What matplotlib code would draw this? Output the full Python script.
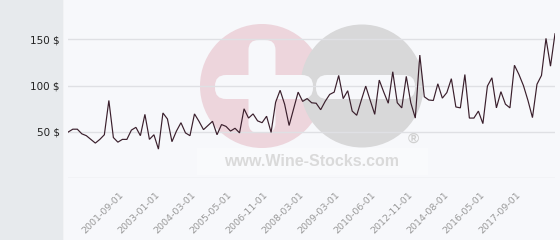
import matplotlib
matplotlib.use("Agg")
import matplotlib.pyplot as plt
from matplotlib.patches import Circle, FancyBboxPatch, Rectangle
import numpy as np

# ---- data ----
prices = [50, 53, 53, 48, 46, 42, 38, 42, 47, 84,
          44, 39, 42, 42, 52, 55, 46, 69, 42, 47,
          31.5, 70.5, 64, 39.5, 51, 60, 49, 46, 69.5, 61.5,
          52.5, 57, 61.5, 47, 58, 56, 51, 54, 49, 75,
          65, 69.5, 62, 60, 67, 49.5, 82, 95, 80, 57,
          75, 93, 83, 86, 81.5, 81, 74, 83, 90.5, 93,
          111, 86, 94.5, 72.5, 68, 84, 99.5, 84, 69, 106,
          93, 81, 115, 81.5, 76, 110, 81.5, 65, 133, 88,
          84.5, 84, 102, 86.5, 92.5, 107.5, 77, 76, 112, 65,
          65, 72.5, 59, 99.5, 108.5, 76, 93.5, 80, 76, 122,
          112, 100, 84, 65.5, 101.5, 111, 151, 121, 156]
tick_labels = ["2001-09-01", "2003-01-01", "2004-03-01", "2005-05-01",
               "2006-11-01", "2008-03-01", "2009-03-01", "2010-06-01",
               "2012-11-01", "2014-08-01", "2016-05-01", "2017-09-01"]
first_tick = 12
tick_step = 8
y_ticks = [50, 100, 150]
y_tick_labels = ["50 $", "100 $", "150 $"]

W, H = 560, 240
fig = plt.figure(figsize=(W / 100, H / 100), dpi=100)
fig.patch.set_facecolor("#f7f8fb")

# ---- background / watermark layer in pixel coordinates ----
bg = fig.add_axes([0, 0, 1, 1], zorder=0)
bg.set_xlim(0, W)
bg.set_ylim(H, 0)
bg.axis("off")
bg.add_patch(Rectangle((0, 0), 63, H, facecolor="#e7eaed", edgecolor="none"))
bg.add_patch(Rectangle((63, 0), 1, H, facecolor="#f2f3f5", edgecolor="none"))

bg.add_patch(Circle((262, 86), 62, facecolor="#edd5dc", edgecolor="none"))
bg.add_patch(Circle((362, 86), 61.5, facecolor="#d8d8d9", edgecolor="none"))
white = "#f7f8fb"
# plus sign
bg.add_patch(FancyBboxPatch((248.5 + 10, 40 + 10), 27 - 20, 93 - 20,
                            boxstyle="round,pad=10", facecolor=white, edgecolor="none"))
bg.add_patch(FancyBboxPatch((215 + 11, 75 + 11), 98 - 22, 24 - 22,
                            boxstyle="round,pad=11", facecolor=white, edgecolor="none"))
# minus sign
bg.add_patch(FancyBboxPatch((316 + 11, 75 + 11), 99 - 22, 24 - 22,
                            boxstyle="round,pad=11", facecolor=white, edgecolor="none"))
bg.add_patch(Rectangle((197, 148), 231, 27, facecolor="white", edgecolor="none", alpha=0.3))
bg.text(312, 161, "www.Wine-Stocks.com", family="Liberation Sans", weight="bold",
        fontsize=11.5, color="#dadada", ha="center", va="center")
bg.text(413, 139, "\u00ae", family="Liberation Sans", weight="bold",
        fontsize=11, color="#d0d0d0", ha="center", va="center")

# ---- main chart ----
x0, x1 = 68.3, 555.0
y0px = 178.3
px_per_unit = 46.33 / 50
ytop = y0px / px_per_unit
ax = fig.add_axes([x0 / W, (H - y0px) / H, (x1 - x0) / W, y0px / H], zorder=1)
ax.patch.set_alpha(0)
n = len(prices)
xs = np.arange(n)
ax.set_xlim(0, n - 1)
ax.set_ylim(0, ytop)

for v in [0] + y_ticks:
    ax.axhline(v, color="#dfe0e4", lw=1.0, zorder=1)

ax.plot(xs, prices, color="#3a1f2c", lw=0.85, zorder=3, solid_joinstyle="miter")

for s in ax.spines.values():
    s.set_visible(False)

ax.set_yticks(y_ticks)
ax.set_yticklabels(y_tick_labels, fontsize=7.5, color="#222222")
ax.tick_params(axis="y", length=0, pad=6)

tick_pos = [first_tick + i * tick_step for i in range(len(tick_labels))]
ax.set_xticks(tick_pos)
ax.set_xticklabels(tick_labels, fontsize=6.8, color="#999999", rotation=45,
                   ha="right", va="center", rotation_mode="anchor")
ax.tick_params(axis="x", length=0, pad=11)

fig.savefig("out.png", dpi=100, facecolor=fig.get_facecolor())
